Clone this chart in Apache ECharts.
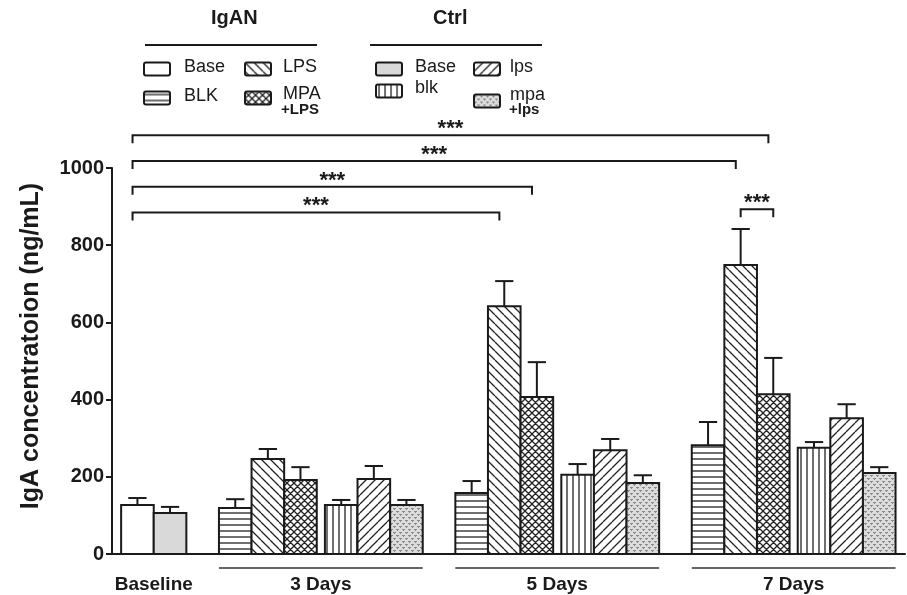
<!DOCTYPE html>
<html><head><meta charset="utf-8">
<script src="https://cdn.jsdelivr.net/npm/echarts@6/dist/echarts.min.js"></script>
<style>html,body{margin:0;padding:0;background:#fff}#c{width:907px;height:595px}</style>
</head><body><div id="c"></div>
<script>
// ---------------- DATA ----------------
const categories = ['Baseline', '3 Days', '5 Days', '7 Days'];
const timeGroups = ['3 Days', '5 Days', '7 Days'];
const yTicks = [0, 200, 400, 600, 800, 1000];

// Baseline
const iganBase = [127];   const iganBaseErr = [18];
const ctrlBase = [106];   const ctrlBaseErr = [16];
// 3, 5, 7 days
const iganBLK = [119, 158, 282];  const iganBLKErr = [23, 31, 60];
const iganLPS = [246, 642, 749];  const iganLPSErr = [26, 65, 93];
const iganMPA = [192, 407, 414];  const iganMPAErr = [33, 90, 94];
const ctrlBlk = [127, 205, 275];  const ctrlBlkErr = [13, 28, 15];
const ctrlLps = [194, 269, 352];  const ctrlLpsErr = [34, 29, 36];
const ctrlMpa = [127, 184, 210];  const ctrlMpaErr = [13, 20, 15];

// significance brackets (from bar -> to bar)
const bigBrackets = [
  { from: ['Baseline', 'IgAN Base'], to: ['7 Days', 'MPA+LPS'], label: '***' },
  { from: ['Baseline', 'IgAN Base'], to: ['7 Days', 'LPS'], label: '***' },
  { from: ['Baseline', 'IgAN Base'], to: ['5 Days', 'MPA+LPS'], label: '***' },
  { from: ['Baseline', 'IgAN Base'], to: ['5 Days', 'LPS'], label: '***' }
];
const smallBrackets = [
  { from: ['7 Days', 'LPS'], to: ['7 Days', 'MPA+LPS'], label: '***' }
];

// ---------------- PATTERNS ----------------
function pat(kind) {
  const c = document.createElement('canvas');
  let s = 8;
  if (kind === 'h' || kind === 'v') s = 6;
  if (kind === 'x') s = 7;
  if (kind === 'dots') s = 6;
  if (kind === 'bs' || kind === 'fs') s = 9;
  c.width = s; c.height = s;
  const g = c.getContext('2d');
  g.fillStyle = kind === 'dots' ? '#dcdcdc' : '#ffffff';
  g.fillRect(0, 0, s, s);
  g.strokeStyle = '#222'; g.lineWidth = 1.3;
  g.beginPath();
  if (kind === 'h') { g.moveTo(0, s / 2); g.lineTo(s, s / 2); }
  if (kind === 'v') { g.moveTo(s / 2, 0); g.lineTo(s / 2, s); }
  if (kind === 'bs' || kind === 'x') { for (let k = -1; k <= 1; k++) { g.moveTo(k * s, 0); g.lineTo(k * s + s, s); } }
  if (kind === 'fs' || kind === 'x') { for (let k = -1; k <= 1; k++) { g.moveTo(k * s, s); g.lineTo(k * s + s, 0); } }
  g.stroke();
  if (kind === 'dots') {
    g.fillStyle = '#8a8a8a';
    g.fillRect(0, 1, 3, 1); g.fillRect(1, 2, 1, 1);
    g.fillRect(3, 4, 3, 1); g.fillRect(4, 5, 1, 1);
  }
  return { image: c, repeat: 'repeat' };
}
const fills = {
  'IgAN Base': '#ffffff',
  'Ctrl Base': '#d9d9d9',
  'BLK': pat('h'),
  'LPS': pat('bs'),
  'MPA+LPS': pat('x'),
  'blk': pat('v'),
  'lps': pat('fs'),
  'mpa+lps': pat('dots')
};

// ---------------- LAYOUT (bar units) ----------------
const X_MAX = 24.32;
const pos = {}; const bounds = {};
(function () {
  let x = 0.28;
  pos['Baseline'] = { 'IgAN Base': x + 0.5, 'Ctrl Base': x + 1.5 };
  bounds['Baseline'] = [x, x + 2]; x += 3;
  const names = ['BLK', 'LPS', 'MPA+LPS', 'blk', 'lps', 'mpa+lps'];
  timeGroups.forEach(g => {
    const start = x; pos[g] = {};
    for (let i = 0; i < 6; i++) {
      if (i === 3) x += 0.25;
      pos[g][names[i]] = x + 0.5; x += 1;
    }
    bounds[g] = [start, x]; x += 1;
  });
})();

const seriesSpec = [
  { name: 'IgAN Base', vals: iganBase, errs: iganBaseErr, groups: ['Baseline'] },
  { name: 'Ctrl Base', vals: ctrlBase, errs: ctrlBaseErr, groups: ['Baseline'] },
  { name: 'BLK', vals: iganBLK, errs: iganBLKErr, groups: timeGroups },
  { name: 'LPS', vals: iganLPS, errs: iganLPSErr, groups: timeGroups },
  { name: 'MPA+LPS', vals: iganMPA, errs: iganMPAErr, groups: timeGroups },
  { name: 'blk', vals: ctrlBlk, errs: ctrlBlkErr, groups: timeGroups },
  { name: 'lps', vals: ctrlLps, errs: ctrlLpsErr, groups: timeGroups },
  { name: 'mpa+lps', vals: ctrlMpa, errs: ctrlMpaErr, groups: timeGroups }
];
const valueOf = {};
seriesSpec.forEach(s => s.groups.forEach((g, i) => { valueOf[g + '|' + s.name] = s.vals[i] + s.errs[i]; }));

const INK = '#1a1a1a';
function barRender(fill) {
  return function (params, api) {
    const x = api.value(0), v = api.value(1), e = api.value(2);
    const bl = api.coord([x - 0.5, 0]);
    const tr = api.coord([x + 0.5, v]);
    const top = api.coord([x, v]);
    const et = api.coord([x, v + e]);
    const cap = api.size([0.28, 0])[0];
    return {
      type: 'group', children: [
        { type: 'line', shape: { x1: top[0], y1: top[1], x2: et[0], y2: et[1] }, style: { stroke: INK, lineWidth: 2 } },
        { type: 'line', shape: { x1: et[0] - cap, y1: et[1], x2: et[0] + cap, y2: et[1] }, style: { stroke: INK, lineWidth: 2 } },
        { type: 'rect', shape: { x: bl[0], y: tr[1], width: tr[0] - bl[0], height: bl[1] - tr[1] },
          style: { fill: fill, stroke: INK, lineWidth: 2 } }
      ]
    };
  };
}

const series = seriesSpec.map(s => ({
  type: 'custom', name: s.name, clip: false,
  renderItem: barRender(fills[s.name]),
  data: s.groups.map((g, i) => [pos[g][s.name], s.vals[i], s.errs[i]]),
  z: 3
}));

// group labels under the axis
series.push({
  type: 'custom', clip: false, silent: true,
  data: categories.map(c => [bounds[c][0], bounds[c][1], c === 'Baseline' ? 0 : 1]),
  renderItem: function (params, api) {
    const a = api.coord([api.value(0), 0]), b = api.coord([api.value(1), 0]);
    const ch = [];
    if (api.value(2)) ch.push({ type: 'line', shape: { x1: a[0], y1: a[1] + 14, x2: b[0], y2: b[1] + 14 }, style: { stroke: '#333', lineWidth: 1.5 } });
    ch.push({ type: 'text', style: { text: categories[params.dataIndex], x: (a[0] + b[0]) / 2, y: a[1] + 31, align: 'center', verticalAlign: 'middle',
      font: 'bold 19px "Liberation Sans", Arial, sans-serif', fill: INK } });
    return { type: 'group', children: ch };
  }
});

// brackets
const bracketRows = [];
bigBrackets.forEach((b, i) => {
  const x1 = pos[b.from[0]][b.from[1]] - 0.15;
  const x2 = pos[b.to[0]][b.to[1]] - 0.15;
  bracketRows.push([x1, x2, 1085 - i * 66.7, 1]);
});
smallBrackets.forEach(b => {
  const x1 = pos[b.from[0]][b.from[1]];
  const x2 = pos[b.to[0]][b.to[1]];
  const lvl = Math.max(valueOf[b.from[0] + '|' + b.from[1]], valueOf[b.to[0] + '|' + b.to[1]]) + 51;
  bracketRows.push([x1, x2, lvl, 1]);
});
const bracketLabels = bigBrackets.concat(smallBrackets).map(b => b.label);
series.push({
  type: 'custom', clip: false, silent: true,
  data: bracketRows,
  renderItem: function (params, api) {
    const p1 = api.coord([api.value(0), api.value(2)]);
    const p2 = api.coord([api.value(1), api.value(2)]);
    return {
      type: 'group', children: [
        { type: 'polyline', shape: { points: [[p1[0], p1[1] + 8], [p1[0], p1[1]], [p2[0], p2[1]], [p2[0], p2[1] + 8]] },
          style: { stroke: INK, lineWidth: 2, fill: null } },
        { type: 'text', style: { text: bracketLabels[params.dataIndex], x: (p1[0] + p2[0]) / 2, y: p1[1] + 5, align: 'center', verticalAlign: 'bottom',
          font: 'bold 22px "Liberation Sans", Arial, sans-serif', fill: INK } }
      ]
    };
  }
});

// ---------------- LEGEND (graphic) ----------------
const legendFont = '18px "Liberation Sans", Arial, sans-serif';
function icon(x, yc, fill) {
  return { type: 'rect', left: x, top: yc - 6.5, shape: { width: 26, height: 13, r: 2 }, style: { fill: fill, stroke: INK, lineWidth: 2 } };
}
function txt(x, yc, t, font) {
  return { type: 'text', left: x, top: yc - 10, style: { text: t, font: font || legendFont, fill: INK, textVerticalAlign: 'top' } };
}
const graphic = [
  { type: 'text', left: 211, top: 8, style: { text: 'IgAN', font: 'bold 20px "Liberation Sans", Arial, sans-serif', fill: INK } },
  { type: 'line', shape: { x1: 145, y1: 45, x2: 317, y2: 45 }, style: { stroke: INK, lineWidth: 2 } },
  { type: 'text', left: 433, top: 8, style: { text: 'Ctrl', font: 'bold 20px "Liberation Sans", Arial, sans-serif', fill: INK } },
  { type: 'line', shape: { x1: 370, y1: 45, x2: 542, y2: 45 }, style: { stroke: INK, lineWidth: 2 } },
  icon(143, 68, fills['IgAN Base']), txt(184, 68, 'Base'),
  icon(244, 68, fills['LPS']), txt(283, 68, 'LPS'),
  icon(143, 97, fills['BLK']), txt(184, 97, 'BLK'),
  icon(244, 97, fills['MPA+LPS']), txt(283, 95, 'MPA'),
  txt(281, 112, '+LPS', 'bold 15px "Liberation Sans", Arial, sans-serif'),
  icon(375, 68, fills['Ctrl Base']), txt(415, 68, 'Base'),
  icon(473, 68, fills['lps']), txt(510, 68, 'lps'),
  icon(375, 90, fills['blk']), txt(415, 89, 'blk'),
  icon(473, 100, fills['mpa+lps']), txt(510, 96, 'mpa'),
  txt(509, 112, '+lps', 'bold 15px "Liberation Sans", Arial, sans-serif'),
  { type: 'text', rotation: Math.PI / 2, x: 31, y: 346,
    style: { text: 'IgA concentratoion (ng/mL)', font: 'bold 25px "Liberation Sans", Arial, sans-serif', fill: INK, align: 'center', verticalAlign: 'middle' } }
];

const chart = echarts.init(document.getElementById('c'), null, { renderer: 'canvas' });
chart.setOption({
  animation: false,
  backgroundColor: '#ffffff',
  grid: { left: 112, right: 2, top: 168, bottom: 41, containLabel: false },
  xAxis: {
    type: 'value', min: 0, max: X_MAX,
    axisLine: { show: true, onZero: true, lineStyle: { color: INK, width: 2 } },
    axisTick: { show: false }, axisLabel: { show: false }, splitLine: { show: false }
  },
  yAxis: {
    type: 'value', min: yTicks[0], max: yTicks[yTicks.length - 1], interval: yTicks[1] - yTicks[0],
    axisLine: { show: true, lineStyle: { color: INK, width: 2 } },
    axisTick: { show: true, length: 6, lineStyle: { color: INK, width: 2 } },
    axisLabel: { color: INK, fontSize: 20, fontWeight: 'bold', fontFamily: '"Liberation Sans", Arial, sans-serif', margin: 8,
      formatter: v => yTicks.indexOf(v) >= 0 ? String(v) : '' },
    splitLine: { show: false }
  },
  graphic: graphic,
  series: series
});
</script></body></html>
